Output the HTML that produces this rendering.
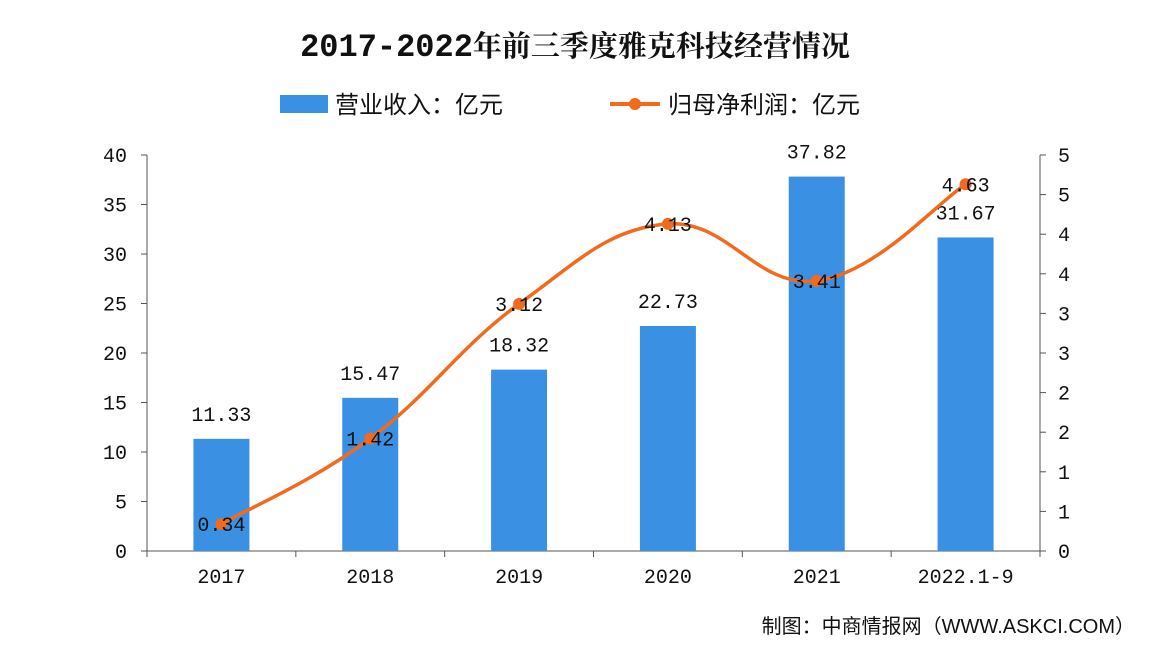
<!DOCTYPE html>
<html><head><meta charset="utf-8"><style>
body{margin:0;background:#fff;width:1150px;height:652px;overflow:hidden}
svg text{font-family:"Liberation Sans","Noto Sans CJK SC",sans-serif}
svg text.m{font-family:"Liberation Mono","DejaVu Sans Mono",monospace}
</style></head><body>
<svg id="c" width="1150" height="652">
<text x="575" y="56" text-anchor="middle" font-size="29" font-weight="bold" fill="#111" style="font-family:'Liberation Serif','Noto Serif CJK SC',serif"><tspan style="font-family:'Liberation Mono',monospace" font-size="32">2017-2022</tspan>年前三季度雅克科技经营情况</text>
<g>
<rect x="280" y="95" width="48" height="18" fill="#3a91e4"/>
<text x="335" y="113" font-size="24" fill="#111">营业收入：亿元</text>
<line x1="610" y1="104" x2="660" y2="104" stroke="#f26a1b" stroke-width="4"/>
<circle cx="635" cy="104" r="6" fill="#f26a1b"/>
<text x="668" y="113" font-size="24" fill="#111">归母净利润：亿元</text>
</g>
<g id="plot"></g>
<text x="1135" y="633" text-anchor="end" font-size="20" fill="#111">制图：中商情报网（WWW.ASKCI.COM）</text>
</svg>
<script>
const categories=["2017","2018","2019","2020","2021","2022.1-9"];
const revenue=[11.33,15.47,18.32,22.73,37.82,31.67];
const profit=[0.34,1.42,3.12,4.13,3.41,4.63];
const leftTicks=[0,5,10,15,20,25,30,35,40];
const rightTickLabels=["0","1","1","2","2","3","3","4","4","5","5"];
const NS="http://www.w3.org/2000/svg";
const g=document.getElementById('plot');
const X0=147,X1=1040,Y0=551,Y1=155;
const step=(X1-X0)/categories.length;
const xc=i=>X0+step*(i+0.5);
const yL=v=>Y0-(v/40)*(Y0-Y1);
const yR=v=>Y0-(v/5)*(Y0-Y1);
function el(t,a,txt){const e=document.createElementNS(NS,t);for(const k in a)e.setAttribute(k,a[k]);if(txt!=null)e.textContent=txt;g.appendChild(e);return e;}
let e=el('line',{x1:X0,y1:Y1,x2:X0,y2:Y0,stroke:'#555','stroke-width':1});

e=el('line',{x1:X1,y1:Y1,x2:X1,y2:Y0,stroke:'#555','stroke-width':1});

e=el('line',{x1:X0,y1:Y0,x2:X1,y2:Y0,stroke:'#555','stroke-width':1});

leftTicks.forEach(v=>{
 el('line',{x1:X0-6,y1:yL(v),x2:X0,y2:yL(v),stroke:'#555'});
 const t=el('text',{class:'m',x:X0-20,y:yL(v)+7,'text-anchor':'end','font-size':20,fill:'#111'},v);
 
});
rightTickLabels.forEach((s,i)=>{
 const y=Y0-i*(Y0-Y1)/(rightTickLabels.length-1);
 el('line',{x1:X1,y1:y,x2:X1+6,y2:y,stroke:'#555'});
 const t=el('text',{class:'m',x:X1+18,y:y+7,'font-size':20,fill:'#111'},s);
 
});
for(let i=0;i<=categories.length;i++)el('line',{x1:X0+step*i,y1:Y0,x2:X0+step*i,y2:Y0+6,stroke:'#555'});
categories.forEach((c,i)=>{
 const t=el('text',{class:'m',x:xc(i),y:583,'text-anchor':'middle','font-size':20,fill:'#111'},c);
 
});
revenue.forEach((v,i)=>{
 const b=el('rect',{x:xc(i)-28,y:yL(v),width:56,height:Y0-yL(v),fill:'#3a91e4'});
 
 const t=el('text',{class:'m',x:xc(i),y:yL(v)-18,'text-anchor':'middle','font-size':20,fill:'#111'},v.toFixed(2));
 
});
const pts=profit.map((v,i)=>[xc(i),yR(v)]);
let d='M'+pts[0][0]+','+pts[0][1];
for(let i=0;i<pts.length-1;i++){
 const p0=pts[Math.max(i-1,0)],p1=pts[i],p2=pts[i+1],p3=pts[Math.min(i+2,pts.length-1)];
 const k=0.2;
 d+=` C${p1[0]+(p2[0]-p0[0])*k},${p1[1]+(p2[1]-p0[1])*k} ${p2[0]-(p3[0]-p1[0])*k},${p2[1]-(p3[1]-p1[1])*k} ${p2[0]},${p2[1]}`;
}
const ln=el('path',{d:d,fill:'none',stroke:'#f26a1b','stroke-width':3.5});

pts.forEach((p,i)=>{
 const m=el('circle',{cx:p[0],cy:p[1],r:6,fill:'#f26a1b'});
 
 const t=el('text',{class:'m',x:p[0],y:p[1]+7,'text-anchor':'middle','font-size':20,fill:'#111'},profit[i].toFixed(2));
 
});
</script>
</body></html>
